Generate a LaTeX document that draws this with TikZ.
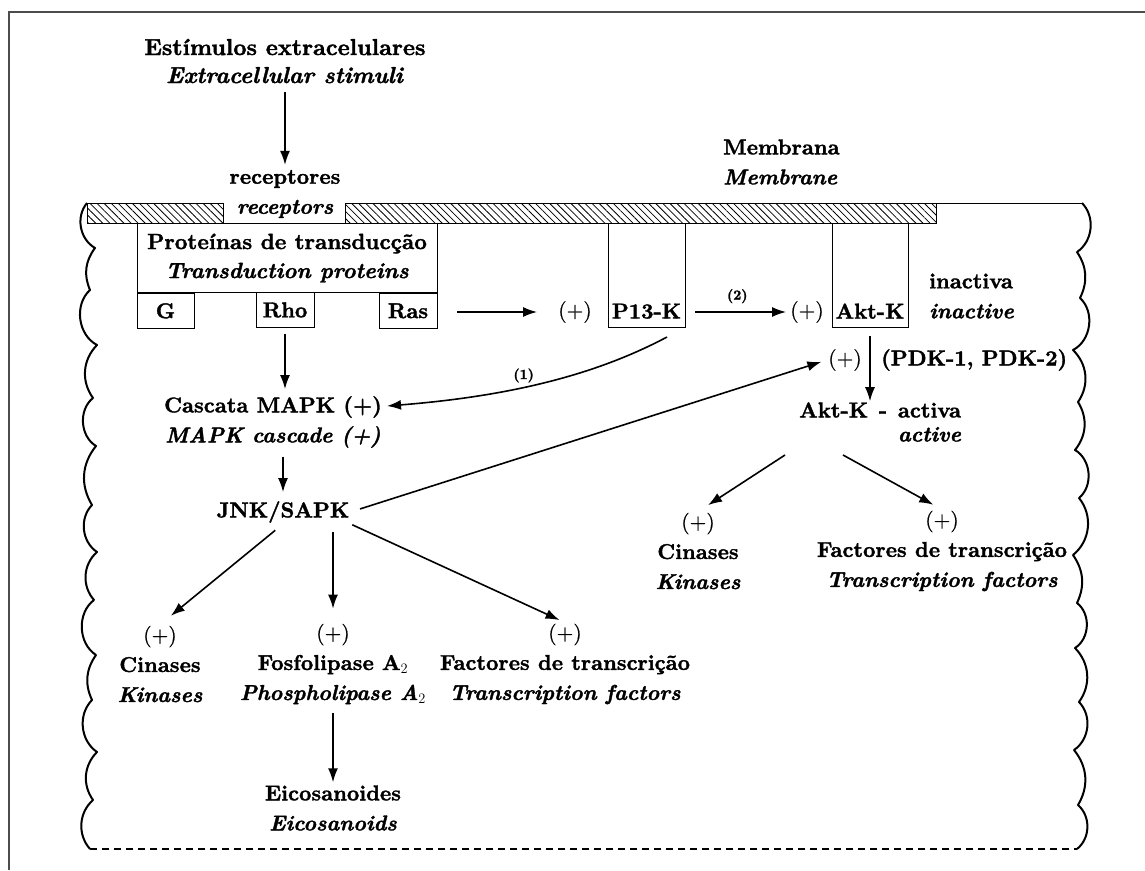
\documentclass[tikz,border=0pt]{standalone}
\usepackage{amsmath}
\usepackage{xcolor}
\usepackage{fontspec}
\setmainfont{lmroman10-regular.otf}[
  BoldFont=lmroman10-bold.otf,
  ItalicFont=lmroman10-italic.otf,
  BoldItalicFont=lmroman10-bolditalic.otf,
  UprightFeatures={FakeBold=0.8},
  BoldFeatures={FakeBold=1.6},
  BoldItalicFeatures={FakeBold=1.6}]
\usetikzlibrary{arrows.meta,positioning,patterns.meta,calc}

\begin{document}
\begin{tikzpicture}[x=1pt,y=-1pt,
    txt/.style={font=\fontsize{21.5}{30}\selectfont\bfseries, align=center, inner sep=1pt},
    bigtxt/.style={txt, font=\fontsize{23}{28}\selectfont\bfseries},
    plus/.style={font=\fontsize{21.5}{30}\selectfont, inner sep=1pt},
    numlab/.style={font=\fontsize{14}{16}\selectfont\bfseries, inner sep=2pt},
    box/.style={draw, line width=0.9pt, inner sep=0pt},
    arr/.style={line width=1.6pt, -{Latex[length=14pt,width=10pt]}},
    memb/.style={draw, line width=1pt, pattern={Lines[angle=-45,distance=5pt,line width=0.8pt]}},
    cellwall/.style={line width=2pt, line join=round}]

  \useasboundingbox (0,0) rectangle (1145,870);

  % outer frame
  \draw[line width=1.2pt, black!70] (9,870) -- (9,12) -- (1145,12);

  % membrane and cell edges
  \path[memb] (87,203) rectangle (223,223);
  \path[memb] (345,203) rectangle (936,223);
  \draw[line width=1pt] (936,203) -- (1082,203);
  \draw[cellwall] (87,203) \foreach \px/\py/\b in {95/248/50, 90/290/30, 97/345/55, 93/398/40, 96/446/55, 92/505/35, 97/552/50, 94/600/45, 96/655/55, 92/700/30, 97/752/50, 93/800/40, 90/849/45} { to[bend right=\b] (\px,\py) };
  \draw[cellwall] (1082,203) \foreach \px/\py/\b in {1077/252/50, 1080/298/30, 1073/350/55, 1078/402/40, 1075/450/35, 1079/498/55, 1073/555/45, 1077/603/30, 1075/648/55, 1079/702/40, 1074/750/50, 1078/805/35, 1077/849/50} { to[bend left=\b] (\px,\py) };
  \draw[line width=1.6pt, dash pattern=on 7pt off 5pt] (90,849) -- (1077,849);

  % top labels
  \node[bigtxt] (stim) at (285,61) {Estímulos extracelulares\\\textit{Extracellular stimuli}};
  \node[txt] (rec) at (285,194) {receptores\\\textit{receptors}};
  \node[txt, align=left, anchor=west] (memtxt) at (722,162) {Membrana\\\textit{Membrane}};

  % transduction proteins
  \node[box, txt, font=\fontsize{22}{29}\selectfont\bfseries, minimum width=300, minimum height=69, anchor=north] (trans) at (287,223) {Proteínas de transducção\\\textit{Transduction proteins}};
  \node[box, txt, minimum width=57, minimum height=35, anchor=north west] (g) at (trans.south west) {G};
  \node[box, txt, minimum width=58, minimum height=35, anchor=north] (rho) at (285,292) {Rho};
  \node[box, txt, minimum width=58, minimum height=35, anchor=north east] (ras) at (trans.south east) {Ras};

  % kinases in membrane
  \node[box, minimum width=77, minimum height=104, anchor=north] (pibox) at (646.5,223) {};
  \node[txt, above=8pt of pibox.south] (pik) {P13-K};
  \node[box, minimum width=76, minimum height=104, anchor=north] (aktbox) at (870,223) {};
  \node[txt, above=8pt of aktbox.south] (akt) {Akt-K};
  \node[plus] (plus1) at (575,312) {(+)};
  \node[plus] (plus2) at (807,312) {(+)};
  \node[plus] (plus3) at (845,360) {(+)};
  \node[txt, align=left, anchor=west] (inact) at (928,296) {inactiva\\\textit{inactive}};
  \node[txt, anchor=west] (pdk) at (880,360) {(PDK-1, PDK-2)};

  % Akt-K active
  \node[txt, anchor=west] (aktact) at (798,410) {Akt-K\enspace-\enspace activa};
  \node[txt, anchor=north east, yshift=-7pt] (actv) at (aktact.south east) {\textit{active}};
  \node[txt] (cin2) at (698,551) {{\mdseries(+)}\\Cinases\\\textit{Kinases}};
  \node[txt] (fac2) at (942,551) {{\mdseries(+)}\\Factores de transcrição\\\textit{Transcription factors}};
  \coordinate (aktout1) at (785,455);
  \coordinate (aktout2) at (843,455);

  % MAPK branch
  \node[txt] (mapk) at (273,422) {Cascata MAPK (+)\\\textit{MAPK cascade (+)}};
  \node[txt] (jnk) at (283,512) {JNK/SAPK};
  \node[txt] (cin1) at (160,664) {{\mdseries(+)}\\Cinases\\\textit{Kinases}};
  \node[txt] (fos) at (333,664) {{\mdseries(+)}\\Fosfolipase A$_2$\\\textit{Phospholipase A$_2$}};
  \node[txt] (fac1) at (565,664) {{\mdseries(+)}\\Factores de transcrição\\\textit{Transcription factors}};
  \node[txt] (eico) at (333,808) {Eicosanoides\\\textit{Eicosanoids}};
  \coordinate (pout) at (667,337);

  % arrows
  \draw[arr, shorten <=8pt, shorten >=4pt] (stim) -- (rec);
  \draw[arr, shorten <=20pt, shorten >=20pt] (ras.east |- plus1.center) -- (plus1.west);
  \draw[arr, shorten <=10pt, shorten >=3pt] (pibox.east |- plus2.center) -- node[numlab, above=6pt] {(2)} (plus2.west);
  \draw[arr, shorten <=8pt] (aktbox.south) -- (aktbox.south |- aktact.north);
  \draw[arr, shorten >=12pt] (aktout1) -- (cin2.north);
  \draw[arr, shorten >=10pt] (aktout2) -- (fac2.north);
  \draw[arr, shorten <=6pt, shorten >=6pt] (rho.south) -- (rho.south |- mapk.north);
  \draw[arr] (pout) .. controls (590,378) and (500,397) .. node[numlab, pos=0.56, above=2pt] {(1)} ([xshift=4pt, yshift=16pt]mapk.east);
  \draw[arr, shorten <=8pt, shorten >=8pt] (jnk.north |- mapk.south) -- (jnk.north);
  \draw[arr, shorten <=10pt, shorten >=6pt] (jnk.east) -- (plus3.west);
  \draw[arr, shorten <=10pt, shorten >=14pt] (jnk.south) -- (cin1.north);
  \draw[arr, shorten <=8pt, shorten >=14pt] (fos.north |- jnk.south) -- (fos.north);
  \draw[arr, shorten <=2pt, shorten >=6pt] (jnk.south east) -- (fac1.north);
  \draw[arr, shorten <=8pt, shorten >=2pt] (fos.south) -- (eico.north);
\end{tikzpicture}
\end{document}
